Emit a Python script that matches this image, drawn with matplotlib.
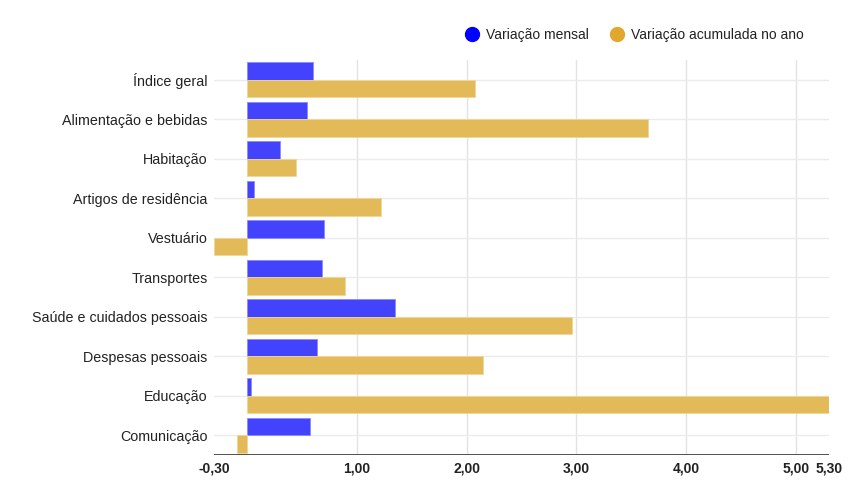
import matplotlib.pyplot as plt
from matplotlib.lines import Line2D
import numpy as np

plt.rcParams['font.family'] = ['Liberation Sans', 'DejaVu Sans']

categorias = ['Índice geral', 'Alimentação e bebidas', 'Habitação',
              'Artigos de residência', 'Vestuário', 'Transportes',
              'Saúde e cuidados pessoais', 'Despesas pessoais',
              'Educação', 'Comunicação']
mensal = [0.60, 0.55, 0.30, 0.06, 0.70, 0.68, 1.35, 0.64, 0.04, 0.57]
acumulada = [2.08, 3.65, 0.45, 1.22, -0.30, 0.89, 2.96, 2.15, 5.30, -0.09]
xticks = [-0.30, 1.00, 2.00, 3.00, 4.00, 5.00, 5.30]

cor_mensal = '#4343fe'
cor_acum = '#e3ba58'

fig = plt.figure(figsize=(8.53, 5.03), dpi=100)
ax = fig.add_axes([214 / 853, 1 - 455 / 503, 615 / 853, 395 / 503])

y = np.arange(len(categorias))
h = 0.44
ax.barh(y - h / 2, mensal, height=h, color=cor_mensal,
        edgecolor='#8a8aff', linewidth=0.6, zorder=3)
ax.barh(y + h / 2, acumulada, height=h, color=cor_acum,
        edgecolor='#f0d69a', linewidth=0.6, zorder=3)

ax.set_ylim(len(categorias) - 0.5, -0.5)
ax.set_xlim(-0.30, 5.30)
ax.set_yticks(y)
ax.set_yticklabels(categorias, fontsize=10.3, color='#222222')
ax.set_xticks(xticks)
ax.set_xticklabels([f'{v:.2f}'.replace('.', ',') for v in xticks],
                   fontsize=10, fontweight='bold', color='#222222')

for v in xticks[1:-1]:
    ax.axvline(v, color='#e3e3e3', linewidth=1, zorder=1)
for yy in y:
    ax.axhline(yy, color='#ebebeb', linewidth=1, zorder=1)
ax.axhline(len(categorias) - 0.5, color='#333333', linewidth=1.2, zorder=4)

for s in ax.spines.values():
    s.set_visible(False)
ax.tick_params(axis='x', length=0, pad=5)
ax.tick_params(axis='y', length=0, pad=4.5)

handles = [Line2D([], [], marker='o', linestyle='', markersize=10,
                  color='#0000ff'),
           Line2D([], [], marker='o', linestyle='', markersize=10,
                  color='#e0a82e')]
fig.legend(handles, ['Variação mensal', 'Variação acumulada no ano'],
           loc='center', bbox_to_anchor=(631 / 853, 1 - 35 / 503), ncol=2,
           frameon=False, fontsize=10, handletextpad=0.0,
           columnspacing=1.0, labelcolor='#222222')

fig.savefig('out.png', dpi=100, facecolor='white')
